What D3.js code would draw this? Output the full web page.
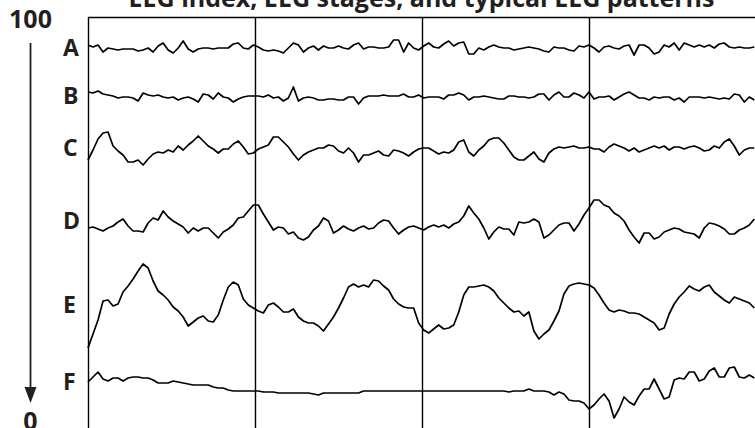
<!DOCTYPE html>
<html>
<head>
<meta charset="utf-8">
<script src="https://cdn.jsdelivr.net/npm/d3@7"></script>
<style>
  html, body { margin: 0; padding: 0; background: #fff; }
  #chart-container svg { display: block; }
</style>
</head>
<body>
<div id="chart-container"></div>
<script>
// EEG samples, one every 0.3 s, values in uV relative to each row's baseline
const sampleStep = 0.3
const epochStarts = [0, 10, 20, 30]
const rowLabels = ['A', 'B', 'C', 'D', 'E', 'F']
const indexTicks = ['100', '0']
const title = 'EEG index, EEG stages, and typical EEG patterns'

const traceA = [3,1,3,-4,0,-1,-2,-1,-1,-1, -3,-2,0,-4,2,5,-2,-5,0,7, -1,-4,-1,0,0,-1,0,0,0,4,
  5,0,-1,3,1,-2,-3,-2,-3,-5, 0,5,3,-4,0,2,-2,2,0,0, 2,0,-1,3,5,-1,1,1,0,0,
  1,8,8,-4,5,0,-2,2,5,1, 0,4,7,2,5,6,-6,-6,0,-2, 1,3,1,0,0,-2,-1,0,1,0,
  -1,-3,-4,1,0,0,-2,-3,2,1, 3,0,-4,1,2,0,-1,2,3,-7, 3,3,0,-6,-4,3,1,5,-2,5,
  3,1,3,1,3,0,4,5,1,0, 1,0,0,1]

const traceB = [5,4,6,3,2,1,-1,0,0,-1, -4,4,2,1,2,0,-1,0,-3,-1, 0,-2,-5,3,2,-2,4,0,-1,-5,
  -2,0,1,1,1,0,2,-1,0,-4, -1,10,-4,-1,0,-1,-3,-3,-2,-2, -3,-3,0,0,-7,-1,1,1,1,2,
  1,1,1,3,0,0,2,-1,0,0, 0,-2,2,2,4,2,-3,0,0,1, 0,-1,-2,-2,1,1,0,0,-1,0,
  3,3,-3,2,5,0,0,4,2,-1, 5,-2,0,0,1,-3,0,3,5,2, -1,-1,-3,0,-1,0,0,-3,-1,-5,
  0,0,0,-1,0,-1,-2,-1,-2,3, 2,-5,0,-3]

const traceC = [-12,-2,9,15,16,2,-3,-7,-14,-14, -12,-17,-11,-6,-4,-5,-2,-4,2,-2, 3,7,12,7,2,-1,-5,-1,-1,4,
  7,1,-6,-5,-1,1,3,11,11,6, 1,-6,-12,-7,-4,-2,0,0,3,2, -3,-5,0,-5,-14,-7,-7,-5,-3,-7,
  -8,-2,-3,-5,-8,-4,-1,0,0,-3, -6,-4,-5,-2,6,8,-4,-8,-2,2, 8,10,10,5,-2,-9,-12,-12,-8,-4,
  -11,-14,-5,-1,1,0,1,2,0,0, 1,-1,-1,-4,1,4,2,0,-3,0, -4,-2,0,2,0,2,-2,1,1,-1,
  1,2,0,-3,-2,2,0,6,9,2, -7,-2,0,0]

const traceD = [0,1,-1,-3,0,2,6,9,2,-3, -3,-4,5,10,8,17,11,7,4,1, -5,0,-3,0,0,-5,-10,-4,-1,3,
  10,11,17,23,23,14,6,-2,1,0, -6,-4,-10,-12,-9,-2,2,10,7,-5, -2,2,-1,-3,0,2,-1,0,5,8,
  7,0,-6,-2,1,2,0,-2,1,3, 1,3,0,4,6,12,22,15,9,0, -11,-4,1,-1,-1,-7,6,5,6,9,
  6,-10,-7,-2,3,5,5,-3,4,13, 20,28,28,23,21,15,12,7,-2,-9, -15,-5,-5,-11,-9,-4,-2,0,-1,-4,
  -5,-6,-10,0,5,4,2,-1,-6,-6, -2,0,3,9]

const traceE = [-43,-29,-15,4,5,-1,1,13,19,26, 34,41,37,24,14,10,5,-2,-6,-12, -21,-17,-13,-11,-16,-17,-10,5,18,23,
  20,6,0,-3,-6,-8,0,2,-2,-7, -7,-4,-12,-16,-18,-18,-21,-26,-19,-12, -3,7,18,21,18,20,18,25,24,19,
  15,6,1,-2,-3,-3,-18,-25,-28,-24, -20,-24,-23,-20,-7,10,18,18,19,20, 18,14,7,2,-3,-7,-6,-11,-7,-26,
  -34,-29,-25,-16,-6,11,19,21,22,21, 20,17,10,2,-5,-7,-5,-6,-8,-8, -9,-12,-15,-18,-25,-23,-9,1,8,13,
  19,16,14,18,20,13,9,5,2,8, 6,4,2,-3]

const traceF = [-1,4,9,2,0,3,3,0,3,4, 4,3,3,1,-2,-2,-2,0,-1,-2, -3,-4,-4,-4,-4,-6,-7,-7,-9,-10,
  -10,-10,-10,-10,-10,-11,-11,-11,-12,-12, -12,-12,-12,-12,-12,-13,-14,-12,-12,-12, -12,-12,-12,-12,-12,-10,-10,-10,-10,-10,
  -10,-10,-10,-10,-10,-10,-10,-10,-10,-10, -10,-10,-10,-10,-10,-10,-10,-10,-10,-10, -10,-10,-10,-10,-11,-10,-10,-10,-8,-10,
  -10,-10,-11,-14,-11,-13,-19,-20,-20,-22, -28,-24,-18,-13,-20,-37,-28,-16,-21,-24, -15,-8,-8,2,-8,-18,-16,1,3,2,
  9,9,0,2,10,13,4,4,13,14, 4,3,6,3]

const traces = [traceA, traceB, traceC, traceD, traceE, traceF]

const w = 755, h = 428
const ink = '#231f20'
const font = '"Open Sans", "Noto Sans", sans-serif'
const rowBase = [48, 97, 148, 228, 305, 381]
const labelY = [48, 96, 148, 221, 305, 382]

const svg = d3.select('#chart-container')
  .append('svg')
  .attr('width', w)
  .attr('height', h)

const xScale = d3.scaleLinear()
  .domain([0, 40])
  .range([88, 756])

const ampScale = d3.scaleLinear()
  .domain([-50, 50])
  .range([50, -50])

// title (top is clipped by the frame edge, as in the source)
svg.append('text')
  .attr('x', (88 + w) / 2)
  .attr('y', 7)
  .attr('text-anchor', 'middle')
  .style('font-family', font)
  .style('font-weight', 700)
  .style('font-size', '25px')
  .attr('fill', ink)
  .text(title)

// frame: top edge and epoch lines
svg.append('line')
  .attr('x1', 88).attr('x2', w)
  .attr('y1', 17.5).attr('y2', 17.5)
  .attr('stroke', '#000')
  .attr('stroke-width', 1.4)

svg.selectAll('line.epoch')
  .data(epochStarts)
  .enter()
  .append('line')
  .attr('class', 'epoch')
  .attr('x1', d => Math.round(xScale(d)) + 0.5)
  .attr('x2', d => Math.round(xScale(d)) + 0.5)
  .attr('y1', 17)
  .attr('y2', h)
  .attr('stroke', '#000')
  .attr('stroke-width', 1.4)

// EEG index arrow
svg.append('line')
  .attr('x1', 30.5).attr('x2', 30.5)
  .attr('y1', 43).attr('y2', 390)
  .attr('stroke', ink)
  .attr('stroke-width', 1.8)

svg.append('path')
  .attr('d', 'M24.5,387 L36.5,387 L30.5,403 Z')
  .attr('fill', ink)

svg.selectAll('text.tick')
  .data(indexTicks)
  .enter()
  .append('text')
  .attr('class', 'tick')
  .attr('x', 30.5)
  .attr('y', (d, i) => i === 0 ? 28 : 430)
  .attr('text-anchor', 'middle')
  .style('font-family', font)
  .style('font-weight', 700)
  .style('font-size', '25px')
  .attr('fill', ink)
  .text(d => d)

// row labels
svg.selectAll('text.row')
  .data(rowLabels)
  .enter()
  .append('text')
  .attr('class', 'row')
  .attr('x', 63)
  .attr('y', (d, i) => labelY[i])
  .attr('dy', '0.36em')
  .style('font-family', font)
  .style('font-weight', 700)
  .style('font-size', '23px')
  .attr('fill', ink)
  .text(d => d)

// traces
traces.forEach((trace, r) => {
  const line = d3.line()
    .x((d, i) => xScale(i * sampleStep))
    .y(d => rowBase[r] + ampScale(d))

  svg.append('path')
    .datum(trace)
    .attr('d', line)
    .attr('fill', 'none')
    .attr('stroke', '#000')
    .attr('stroke-width', 1.7)
    .attr('stroke-linejoin', 'round')
})
</script>
</body>
</html>
